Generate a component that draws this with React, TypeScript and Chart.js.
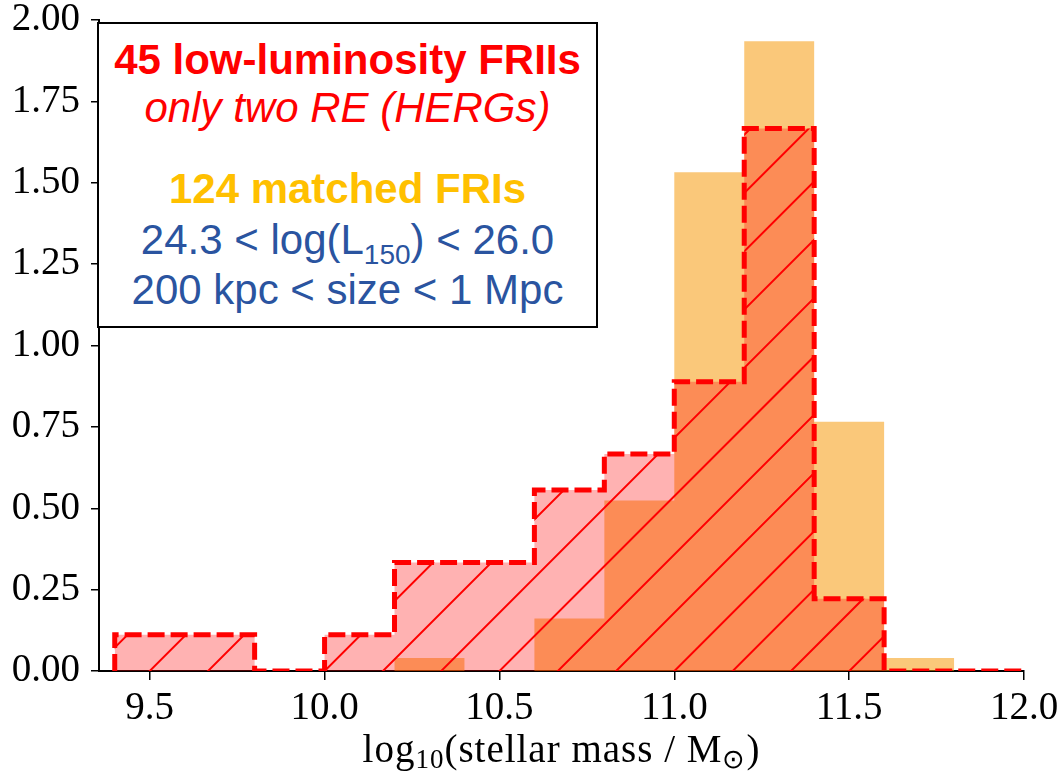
import React, { useEffect, useRef } from 'react';
import { Chart, registerables } from 'chart.js';

Chart.register(...registerables);

// ---- data ----
const BIN_EDGES = [9.4, 9.6, 9.8, 10.0, 10.2, 10.4, 10.6, 10.8, 11.0, 11.2, 11.4, 11.6, 11.8, 12.0];
// normalised densities per 0.2-dex bin
const FRII_DENSITY = [0.111, 0.111, 0, 0.111, 0.333, 0.333, 0.556, 0.667, 0.889, 1.667, 0.222, 0, 0];
const FRI_DENSITY = [0, 0, 0, 0, 0.04, 0, 0.161, 0.524, 1.532, 1.935, 0.766, 0.04, 0];
const X_TICKS = [9.5, 10.0, 10.5, 11.0, 11.5, 12.0];
const Y_TICKS = [0, 0.25, 0.5, 0.75, 1.0, 1.25, 1.5, 1.75, 2.0];
const X_RANGE = [9.355, 12.0];
const Y_RANGE = [0, 2];

const FRII_LABEL = '45 low-luminosity FRIIs';
const FRI_LABEL = '124 matched FRIs';

const FRII_FILL = 'rgba(255, 0, 0, 0.3)';
const FRII_EDGE = '#ff0000';
const FRI_FILL = 'rgba(245, 150, 0, 0.52)';

const SERIF = "'Liberation Serif', 'Times New Roman', serif";
const SANS = "'Liberation Sans', Arial, sans-serif";

function stepPoints(values: number[]) {
  const pts: { x: number; y: number }[] = [{ x: BIN_EDGES[0], y: 0 }];
  values.forEach((v, i) => pts.push({ x: BIN_EDGES[i], y: v }));
  pts.push({ x: BIN_EDGES[values.length], y: 0 });
  return pts;
}

const hatchPlugin = {
  id: 'hatchFill',
  beforeDatasetDraw(chart: any, args: any, opts: any) {
    if (!opts || args.index !== opts.datasetIndex) return;
    const pts = args.meta.data;
    if (!pts || pts.length < 2) return;
    const { ctx, chartArea, scales } = chart;
    ctx.save();
    ctx.beginPath();
    ctx.rect(chartArea.left, chartArea.top, chartArea.right - chartArea.left, chartArea.bottom - chartArea.top);
    ctx.clip();
    ctx.beginPath();
    ctx.moveTo(pts[0].x, pts[0].y);
    for (let i = 1; i < pts.length; i++) {
      ctx.lineTo(pts[i].x, pts[i - 1].y);
      ctx.lineTo(pts[i].x, pts[i].y);
    }
    ctx.closePath();
    ctx.clip();
    const x0 = scales.x.getPixelForValue(opts.anchor);
    const y0 = scales.y.getPixelForValue(0);
    const h = chartArea.bottom - chartArea.top + 20;
    ctx.strokeStyle = opts.color;
    ctx.lineWidth = opts.width;
    ctx.beginPath();
    for (let k = -30; k < 30; k++) {
      const xs = x0 + k * opts.spacing;
      ctx.moveTo(xs - 10, y0 + 10);
      ctx.lineTo(xs + h, y0 - h);
    }
    ctx.stroke();
    ctx.restore();
  },
};

export default function App() {
  const ref = useRef<HTMLCanvasElement>(null);

  useEffect(() => {
    const canvas = ref.current;
    if (!canvas) return;
    const chart = new Chart(canvas, {
      type: 'line',
      data: {
        datasets: [
          {
            label: FRII_LABEL,
            data: stepPoints(FRII_DENSITY),
            stepped: 'before',
            fill: 'origin',
            backgroundColor: FRII_FILL,
            borderColor: FRII_EDGE,
            borderWidth: 5,
            borderDash: [17, 6],
            borderCapStyle: 'butt',
            borderJoinStyle: 'miter',
            pointRadius: 0,
            pointHoverRadius: 0,
          },
          {
            label: FRI_LABEL,
            data: stepPoints(FRI_DENSITY),
            stepped: 'before',
            fill: 'origin',
            backgroundColor: FRI_FILL,
            borderColor: 'rgba(0,0,0,0)',
            borderWidth: 0,
            pointRadius: 0,
            pointHoverRadius: 0,
          },
        ],
      } as any,
      options: {
        animation: false,
        responsive: false,
        events: [],
        layout: { padding: { top: 20, right: 37, bottom: 0, left: 0 } },
        plugins: {
          legend: { display: false },
          tooltip: { enabled: false },
          hatchFill: { datasetIndex: 0, anchor: 9.5, spacing: 58.3, color: FRII_EDGE, width: 2 },
        } as any,
        scales: {
          x: {
            type: 'linear',
            min: X_RANGE[0],
            max: X_RANGE[1],
            offset: false,
            z: 1,
            afterBuildTicks: (s: any) => {
              s.ticks = X_TICKS.map((value) => ({ value }));
            },
            afterFit: (s: any) => {
              s.height = 101;
              s.paddingLeft = 0;
              s.paddingRight = 0;
            },
            grid: { display: true, drawOnChartArea: false, drawTicks: true, tickLength: 9, color: '#000', lineWidth: 1.5 },
            border: { display: true, color: '#000', width: 2 },
            ticks: {
              font: { family: SERIF, size: 39, lineHeight: 1 },
              color: '#000',
              padding: 9,
              maxRotation: 0,
              autoSkip: false,
              callback: (v: any) => Number(v).toFixed(1),
            },
          },
          y: {
            type: 'linear',
            min: Y_RANGE[0],
            max: Y_RANGE[1],
            afterBuildTicks: (s: any) => {
              s.ticks = Y_TICKS.map((value) => ({ value }));
            },
            afterFit: (s: any) => {
              s.width = 99;
              s.paddingTop = 0;
              s.paddingBottom = 0;
            },
            grid: { display: true, drawOnChartArea: false, drawTicks: true, tickLength: 8, color: '#000', lineWidth: 1.5 },
            border: { display: true, color: '#000', width: 2 },
            ticks: {
              font: { family: SERIF, size: 39, lineHeight: 0.3 },
              color: '#000',
              padding: 11,
              autoSkip: false,
              callback: (v: any) => Number(v).toFixed(2),
            },
          },
        } as any,
      },
      plugins: [hatchPlugin],
    } as any);
    return () => chart.destroy();
  }, []);

  const lineStyle = (top: number, color: string, extra: any = {}) => ({
    position: 'absolute' as const,
    left: 0,
    right: 0,
    top,
    lineHeight: '50px',
    fontSize: 42,
    textAlign: 'center' as const,
    whiteSpace: 'nowrap' as const,
    color,
    ...extra,
  });

  return (
    <div style={{ position: 'absolute', left: 0, top: 0, width: 1061, height: 772, background: '#fff', overflow: 'hidden' }}>
      <canvas ref={ref} width={1061} height={772} style={{ position: 'absolute', left: 0, top: 0 }} />
      <div
        style={{
          position: 'absolute',
          left: 97,
          top: 22,
          width: 501,
          height: 306,
          boxSizing: 'border-box',
          border: '2px solid #000',
          background: '#fff',
          fontFamily: SANS,
        }}
      >
        <div style={lineStyle(11, '#ff0000', { fontWeight: 'bold' })}>{FRII_LABEL}</div>
        <div style={lineStyle(59, '#ff0000', { fontStyle: 'italic' })}>only two RE (HERGs)</div>
        <div style={lineStyle(140, '#ffc000', { fontWeight: 'bold' })}>{FRI_LABEL}</div>
        <div style={lineStyle(191.4, '#2a54a0')}>
          24.3 &lt; log(L<span style={{ fontSize: 28, verticalAlign: '-10px', lineHeight: 1 }}>150</span>) &lt; 26.0
        </div>
        <div style={lineStyle(241.4, '#2a54a0')}>200 kpc &lt; size &lt; 1 Mpc</div>
      </div>
      <div
        style={{
          position: 'absolute',
          left: 99,
          width: 925,
          top: 727,
          lineHeight: '44px',
          fontSize: 39,
          letterSpacing: '1px',
          fontFamily: SERIF,
          textAlign: 'center',
          whiteSpace: 'nowrap',
          color: '#000',
        }}
      >
        log<span style={{ fontSize: 27, verticalAlign: '-6px', lineHeight: 1 }}>10</span>(stellar mass / M
        <span style={{ fontSize: 27, verticalAlign: '-6px', lineHeight: 1 }}>⊙</span>)
      </div>
    </div>
  );
}
